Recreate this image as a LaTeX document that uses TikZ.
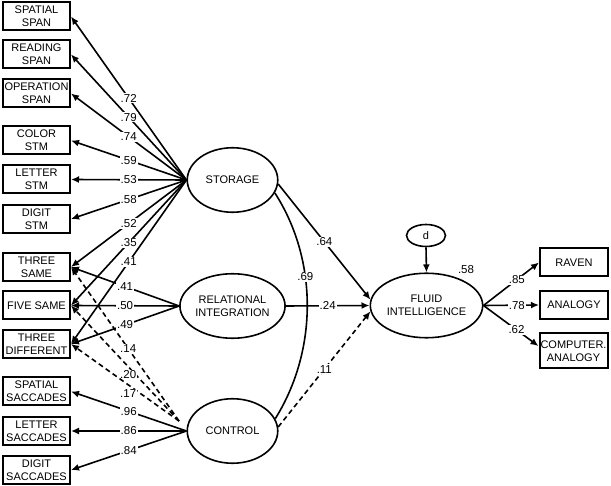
\documentclass[tikz,border=0pt]{standalone}
\usepackage{fontspec}
\setmainfont{Liberation Sans}
\usetikzlibrary{shapes.geometric,arrows.meta}
\begin{document}
\begin{tikzpicture}[x=1pt,y=-1pt,
  font=\fontsize{11}{13.3}\selectfont,
  obs/.style={draw,line width=2pt,minimum width=67pt,minimum height=28pt,inner sep=0pt,align=center},
  lat/.style={draw,ellipse,line width=1.6pt,minimum width=90.5pt,minimum height=64.5pt,inner sep=0pt,align=center},
  arr/.style={line width=1.6pt,-{Latex[length=8pt,width=7pt]}},
  darr/.style={arr,dash pattern=on 5pt off 3.5pt},
  coef/.style={fill=white,inner sep=1pt,font=\fontsize{11.5}{13}\selectfont},
  plain/.style={inner sep=1pt,font=\fontsize{11.5}{13}\selectfont},
]
\useasboundingbox (0,0) rectangle (611,486);
% observed indicators (left)
\node[obs] (sspan) at (36.5,16.5) {SPATIAL\\SPAN};
\node[obs] (rspan) at (36.5,54.5) {READING\\SPAN};
\node[obs] (ospan) at (36.5,93.5) {OPERATION\\SPAN};
\node[obs] (cstm) at (36.5,140.5) {COLOR\\STM};
\node[obs] (lstm) at (36.5,179.5) {LETTER\\STM};
\node[obs] (dstm) at (36.5,219) {DIGIT\\STM};
\node[obs] (tsame) at (36.5,267) {THREE\\SAME};
\node[obs] (fsame) at (36.5,305.5) {FIVE SAME};
\node[obs] (tdiff) at (36.5,344) {THREE\\DIFFERENT};
\node[obs] (ssac) at (36.5,391.5) {SPATIAL\\SACCADES};
\node[obs] (lsac) at (36.5,431) {LETTER\\SACCADES};
\node[obs] (dsac) at (36.5,470) {DIGIT\\SACCADES};
% latent variables
\node[lat] (storage) at (232.5,180) {STORAGE};
\node[lat] (relint) at (232.5,306) {RELATIONAL\\INTEGRATION};
\node[lat] (control) at (232.5,431) {CONTROL};
\node[lat] (fluid) at (426.5,305.5) {FLUID\\INTELLIGENCE};
\node[draw,ellipse,line width=1.6pt,minimum width=39pt,minimum height=22pt,inner sep=0pt] (dist) at (426,235.5) {d};
% right indicators
\node[obs,minimum width=68pt] (raven) at (574,262.5) {RAVEN};
\node[obs,minimum width=68pt] (analogy) at (574,305) {ANALOGY};
\node[obs,minimum width=68pt,minimum height=35pt] (comp) at (573.5,351) {COMPUTER.\\ANALOGY};
\coordinate (ctrlD) at (179,421);
% storage loadings
\draw[arr] (storage.west) -- node[coef]{.72} (sspan.east);
\draw[arr] (storage.west) -- node[coef]{.79} (rspan.east);
\draw[arr] (storage.west) -- node[coef]{.74} (ospan.east);
\draw[arr] (storage.west) -- node[coef]{.59} (cstm.east);
\draw[arr] (storage.west) -- node[coef]{.53} (lstm.east);
\draw[arr] (storage.west) -- node[coef]{.58} (dstm.east);
\draw[arr] (storage.west) -- node[coef]{.52} (tsame.east);
\draw[arr] (storage.west) -- node[coef]{.35} (fsame.east);
\draw[arr] (storage.west) -- node[coef]{.41} (tdiff.east);
% relational integration loadings
\draw[arr] (relint.west) -- node[coef]{.41} (tsame.east);
\draw[arr] (relint.west) -- node[coef]{.50} (fsame.east);
\draw[arr] (relint.west) -- node[coef]{.49} (tdiff.east);
% control loadings
\draw[darr] (ctrlD) -- node[coef,pos=0.47]{.14} (tsame.east);
\draw[darr] (ctrlD) -- node[coef,pos=0.47,yshift=-8pt]{.20} (fsame.east);
\draw[darr] (ctrlD) -- node[coef,pos=0.47,yshift=-9pt]{.17} (tdiff.east);
\draw[arr] (control.west) -- node[coef]{.96} (ssac.east);
\draw[arr] (control.west) -- node[coef]{.86} (lsac.east);
\draw[arr] (control.west) -- node[coef]{.84} (dsac.east);
% correlation storage-control
\draw[line width=1.6pt] (storage.-17) .. controls (318,260) and (318,350) .. node[coef,pos=0.38]{.69} (control.16);
% structural paths
\draw[arr] (storage.-5) -- node[coef]{.64} (fluid.174);
\draw[arr] (relint.east) -- node[coef]{.24} (fluid.west);
\draw[darr] (control.5) -- node[coef]{.11} (fluid.186);
\draw[arr] (dist.south) -- (fluid.north);
\node[plain] (r2) at (466,270) {.58};
% fluid loadings
\draw[arr] (fluid.east) -- node[coef,pos=0.6]{.85} (raven.west);
\draw[arr] (fluid.east) -- node[coef,pos=0.6]{.78} (analogy.west);
\draw[arr] (fluid.east) -- node[coef,pos=0.6]{.62} (comp.172);
\end{tikzpicture}
\end{document}
